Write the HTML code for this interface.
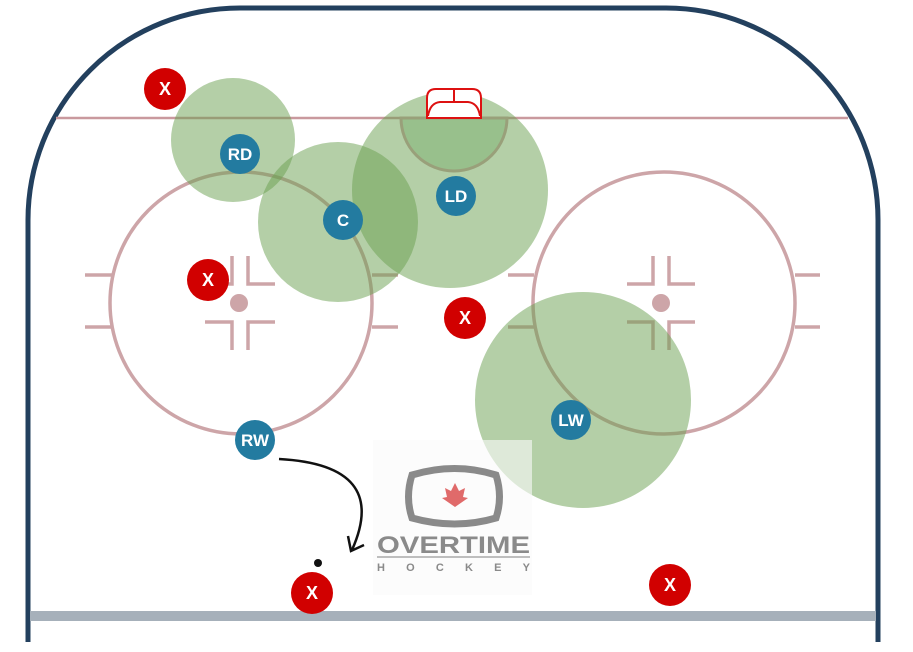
<!DOCTYPE html>
<html><head><style>html,body{margin:0;padding:0;background:#fff}svg{display:block}</style></head>
<body>
<svg width="913" height="652" viewBox="0 0 913 652" xmlns="http://www.w3.org/2000/svg" font-family="Liberation Sans, sans-serif">
<rect width="913" height="652" fill="#fff"/>
<path d="M28,642 L28,220 A212,212 0 0 1 240,8 L666,8 A212,212 0 0 1 878,220 L878,642" fill="none" stroke="#23405e" stroke-width="5"/>
<line x1="56" y1="118" x2="848" y2="118" stroke="#c9999e" stroke-width="2.5"/>
<rect x="30" y="611" width="846" height="10" fill="#a6b0ba"/>
<path d="M401,118 A53,53 0 0 0 507,118 Z" fill="#c6e0c8" stroke="#c9a0a4" stroke-width="3"/>
<g stroke="#cda5a8" stroke-width="3.5" fill="none">
<circle cx="241" cy="303" r="131"/>
<circle cx="664" cy="303" r="131"/>
<path d="M85,275H112M85,327H112M372,275H398M372,327H398"/>
<path d="M508,275H534M508,327H534M795,275H820M795,327H820"/>
<path d="M232,256V284H205M248,256V284H275M232,350V322H205M248,350V322H275"/>
<path d="M653,256V284H627M669,256V284H695M653,350V322H627M669,350V322H695"/>
</g>
<circle cx="239" cy="303" r="9" fill="#cda5a8"/>
<circle cx="661" cy="303" r="9" fill="#cda5a8"/>
<g fill="#6a9f50" fill-opacity="0.5">
<circle cx="233" cy="140" r="62"/>
<circle cx="338" cy="222" r="80"/>
<circle cx="450" cy="190" r="98"/>
<circle cx="583" cy="400" r="108"/>
</g>
<!-- net -->
<path d="M427,118 L427,98 Q427,89 436,89 L472,89 Q481,89 481,98 L481,118 Z" fill="#fff" stroke="#dd1111" stroke-width="2"/>
<path d="M428,116 Q430,103 440,102 L468,102 Q478,103 480,116" fill="none" stroke="#dd1111" stroke-width="2"/>
<line x1="454" y1="89" x2="454" y2="102" stroke="#dd1111" stroke-width="2"/>
<!-- logo box -->
<rect x="373" y="440" width="159" height="155" fill="#fafafa" fill-opacity="0.6"/>
<g fill="none" stroke="#8a8a8a" stroke-width="7">
<path d="M412,475 Q455,462 496,475 Q503,497 496,518 Q455,530 412,518 Q405,497 412,475 Z"/>
</g>
<path d="M455,483 l4,8 6,-3 -2,9 5,1 -13,9 -13,-9 5,-1 -2,-9 6,3 Z" fill="#e06a6a"/>
<text x="377" y="553" font-size="24" fill="#8a8a8a" font-weight="bold" textLength="153" lengthAdjust="spacingAndGlyphs">OVERTIME</text>
<line x1="377" y1="557" x2="530" y2="557" stroke="#aaa" stroke-width="1.5"/>
<text x="377" y="571" font-size="11" fill="#8a8a8a" font-weight="bold" textLength="153">HOCKEY</text>
<!-- arrow -->
<path d="M279,459 Q390,465 352,550" fill="none" stroke="#111" stroke-width="2.5"/>
<path d="M348,536 L351,551 L364,545" fill="none" stroke="#111" stroke-width="2.5"/>
<circle cx="318" cy="563" r="4" fill="#111"/>
<g fill="#237ba0">
<circle cx="240" cy="154" r="20"/><circle cx="343" cy="220" r="20"/><circle cx="456" cy="196" r="20"/><circle cx="571" cy="420" r="20"/><circle cx="255" cy="440" r="20"/>
</g>
<g fill="#fff" font-weight="bold" font-size="17" text-anchor="middle">
<text x="240" y="160">RD</text><text x="343" y="226">C</text><text x="456" y="202">LD</text><text x="571" y="426">LW</text><text x="255" y="446">RW</text>
</g>
<g fill="#d10000">
<circle cx="165" cy="89" r="21"/><circle cx="208" cy="280" r="21"/><circle cx="465" cy="318" r="21"/><circle cx="312" cy="593" r="21"/><circle cx="670" cy="585" r="21"/>
</g>
<g fill="#fff" font-weight="bold" font-size="18" text-anchor="middle">
<text x="165" y="95">X</text><text x="208" y="286">X</text><text x="465" y="324">X</text><text x="312" y="599">X</text><text x="670" y="591">X</text>
</g>
</svg>
</body></html>
